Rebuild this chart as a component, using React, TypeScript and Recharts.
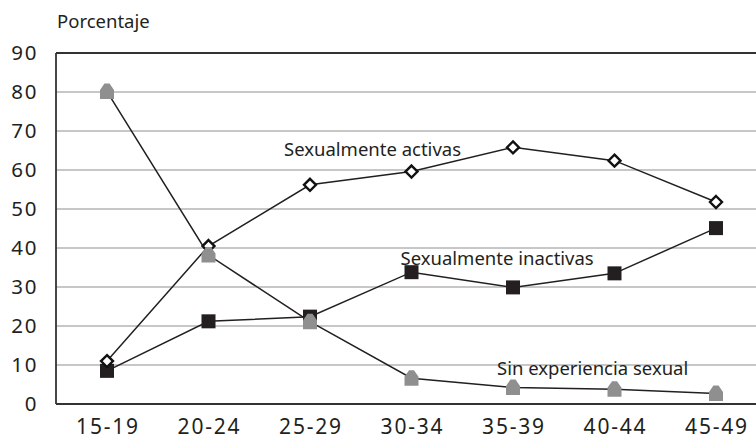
import React from "react";
import { LineChart, Line, XAxis, YAxis, CartesianGrid, ReferenceLine } from "recharts";

const categories = ["15-19", "20-24", "25-29", "30-34", "35-39", "40-44", "45-49"];
const activas = [11, 40.5, 56.2, 59.6, 65.8, 62.4, 51.8];
const inactivas = [8.5, 21.2, 22.4, 33.8, 29.9, 33.5, 45.1];
const sinExperiencia = [80.1, 38.2, 21.1, 6.6, 4.2, 3.8, 2.7];
const yTicks = [0, 10, 20, 30, 40, 50, 60, 70, 80, 90];

const data = categories.map((c, i) => ({
  cat: c,
  activas: activas[i],
  inactivas: inactivas[i],
  sin: sinExperiencia[i],
}));

const FONT = "'Noto Sans', 'Open Sans', sans-serif";
const TEXT = "#231f20";

const labelStyle = { fontFamily: FONT, fontSize: 18.5, fill: TEXT } as const;

function makeDot(kind: string, labelIndex: number, label: string, dx: number, dy: number) {
  return (props: any) => {
    const { cx, cy, index } = props;
    if (cx == null || cy == null) return <g key={`d-${kind}-${index}`} />;
    let shape: React.ReactNode = null;
    if (kind === "diamond") {
      const r = 6;
      shape = (
        <polygon
          points={`${cx},${cy - r} ${cx + r},${cy} ${cx},${cy + r} ${cx - r},${cy}`}
          fill="#fff"
          stroke="#111"
          strokeWidth={2.4}
        />
      );
    } else if (kind === "square") {
      shape = <rect x={cx - 7} y={cy - 7} width={14} height={14} fill="#231f20" />;
    } else {
      shape = (
        <polygon
          points={`${cx - 2.5},${cy - 8} ${cx + 2.5},${cy - 8} ${cx + 7},${cy - 1.5} ${cx + 7},${cy + 7.5} ${cx - 7},${cy + 7.5} ${cx - 7},${cy - 1.5}`}
          fill="#8f8f8f"
        />
      );
    }
    return (
      <g key={`d-${kind}-${index}`}>
        {shape}
        {index === labelIndex ? (
          <text x={cx + dx} y={cy + dy} style={labelStyle}>
            {label}
          </text>
        ) : null}
      </g>
    );
  };
}

const XTick = (props: any) => {
  const { x, y, payload } = props;
  return (
    <text
      x={x + 1}
      y={y + 30}
      textAnchor="middle"
      style={{ fontFamily: FONT, fontSize: 21, fill: TEXT, letterSpacing: 1.8 }}
    >
      {payload.value}
    </text>
  );
};

const YTick = (props: any) => {
  const { x, y, payload } = props;
  return (
    <text
      x={x}
      y={y + 7}
      textAnchor="end"
      style={{ fontFamily: FONT, fontSize: 20.5, fill: TEXT, letterSpacing: 1.6 }}
    >
      {payload.value}
    </text>
  );
};

export default function App() {
  return (
    <div style={{ position: "absolute", left: 0, top: 0, width: 756, height: 441, background: "#fff" }}>
      <div
        style={{
          position: "absolute",
          left: 57,
          top: 8,
          fontFamily: FONT,
          fontSize: 18.5,
          color: TEXT,
          lineHeight: "26px",
        }}
      >
        Porcentaje
      </div>
      <LineChart width={756} height={441} data={data} margin={{ top: 53, right: 0, bottom: 0, left: 0 }}>
        <CartesianGrid horizontal vertical={false} stroke="#b5b5b5" strokeWidth={1.6} />
        <XAxis
          dataKey="cat"
          height={37}
          padding={{ left: 51, right: 40 }}
          axisLine={{ stroke: "#333", strokeWidth: 1.8 }}
          tickLine={false}
          tickSize={0}
          tickMargin={0}
          tick={<XTick />}
          interval={0}
        />
        <YAxis
          domain={[0, 90]}
          ticks={yTicks}
          width={56}
          axisLine={{ stroke: "#333", strokeWidth: 1.8 }}
          tickLine={false}
          tickSize={0}
          tickMargin={18}
          tick={<YTick />}
          interval={0}
        />
        <ReferenceLine y={90} stroke="#333" strokeWidth={1.8} />
        <Line
          dataKey="inactivas"
          stroke="#231f20"
          strokeWidth={1.5}
          isAnimationActive={false}
          dot={makeDot("square", 3, "Sexualmente inactivas", -11, -7)}
          activeDot={false}
        />
        <Line
          dataKey="activas"
          stroke="#231f20"
          strokeWidth={1.5}
          isAnimationActive={false}
          dot={makeDot("diamond", 2, "Sexualmente activas", -26, -29)}
          activeDot={false}
        />
        <Line
          dataKey="sin"
          stroke="#231f20"
          strokeWidth={1.5}
          isAnimationActive={false}
          dot={makeDot("house", 4, "Sin experiencia sexual", -16, -13)}
          activeDot={false}
        />
      </LineChart>
    </div>
  );
}
